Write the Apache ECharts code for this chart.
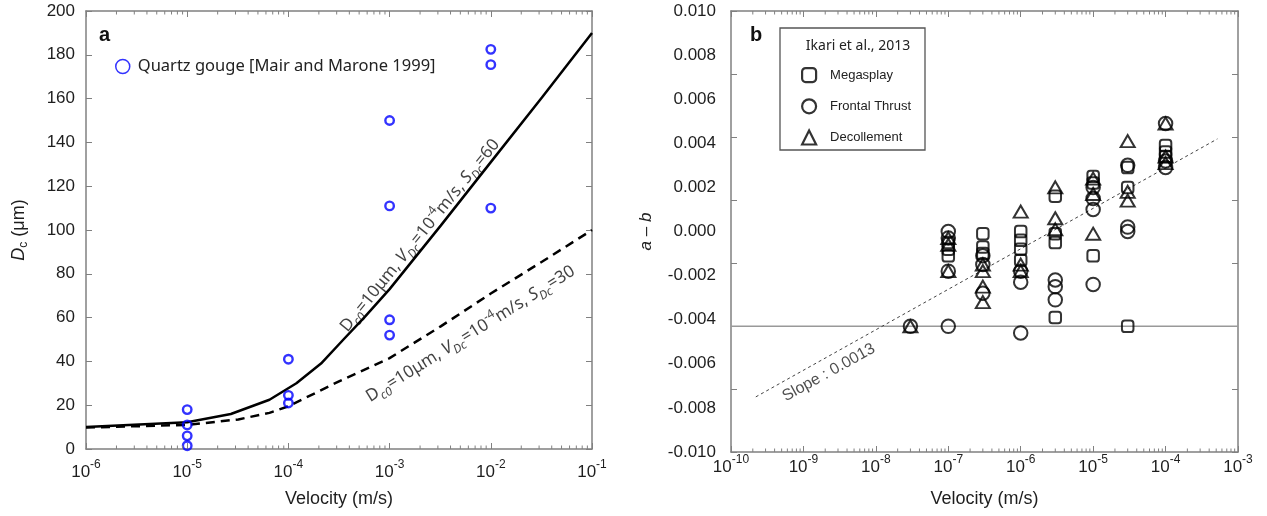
<!DOCTYPE html>
<html>
<head>
<meta charset="utf-8">
<script src="https://cdn.jsdelivr.net/npm/echarts@6/dist/echarts.min.js"></script>
<style>
  html, body { margin: 0; padding: 0; background: #fff; }
  #chart { width: 1267px; height: 516px; }
</style>
</head>
<body>
<div id="chart"></div>
<script>
// ---- panel a : Dc vs velocity ----
const quartzVel = [1e-5, 1e-5, 1e-5, 1e-5, 1e-4, 1e-4, 1e-4, 1e-3, 1e-3, 1e-3, 1e-3, 1e-2, 1e-2, 1e-2];
const quartzDc = [18, 11, 6, 1.5, 41, 24.5, 21, 150, 111, 59, 52, 182.5, 175.5, 110];

const s60Vel = [1e-6, 1e-5, 2.7e-5, 6.5e-5, 1.2e-4, 2.1e-4, 3.5e-4, 5.6e-4, 1e-3, 3.2e-3, 1e-2, 3.2e-2, 1e-1];
const s60Dc = [10, 12.2, 16, 22.5, 30, 39, 50, 60, 73, 102, 131, 160.5, 190];

const s30Vel = [1e-6, 1e-5, 3.2e-5, 6.5e-5, 1e-4, 3.2e-4, 1e-3, 3.2e-3, 1e-2, 3.2e-2, 1e-1];
const s30Dc = [9.8, 11, 13.5, 16.5, 19.5, 31, 41.5, 56, 71, 85.5, 100];

// ---- panel b : a-b vs velocity (Ikari et al., 2013) ----
const megaVel = [1e-7, 1e-7, 1e-7, 3e-7, 3e-7, 3e-7, 1e-6, 1e-6, 1e-6, 1e-6,
  3e-6, 3e-6, 3e-6, 3e-6, 1e-5, 1e-5, 1e-5, 3e-5, 3e-5, 3e-5, 1e-4, 1e-4, 1e-4];
const megaAB = [-0.0005, -0.0008, -0.0011, -0.0001, -0.0007, -0.0010, 0.0000, -0.0004, -0.0008, -0.0013,
  0.0016, -0.0001, -0.0005, -0.0039, 0.0025, 0.0022, -0.0011, 0.0029, 0.0020, -0.0043, 0.0039, 0.0036, 0.0034];

const frontVel = [3e-8, 1e-7, 1e-7, 1e-7, 1e-7, 3e-7, 3e-7, 3e-7, 1e-6, 1e-6, 1e-6,
  3e-6, 3e-6, 3e-6, 1e-5, 1e-5, 1e-5, 1e-5, 3e-5, 3e-5, 3e-5, 1e-4, 1e-4, 1e-4];
const frontAB = [-0.0043, 0.0000, -0.0003, -0.0018, -0.0043, -0.0011, -0.0015, -0.0028, -0.0018, -0.0023, -0.0046,
  -0.0022, -0.0025, -0.0031, 0.0020, 0.0015, 0.0010, -0.0024, 0.0030, 0.0002, 0.0000, 0.0049, 0.0032, 0.0029];

const decolVel = [3e-8, 1e-7, 1e-7, 1e-7, 3e-7, 3e-7, 3e-7, 3e-7, 1e-6, 1e-6, 1e-6,
  3e-6, 3e-6, 3e-6, 1e-5, 1e-5, 1e-5, 3e-5, 3e-5, 3e-5, 1e-4, 1e-4, 1e-4];
const decolAB = [-0.0043, -0.0003, -0.0006, -0.0018, -0.0015, -0.0018, -0.0025, -0.0032, 0.0009, -0.0015, -0.0018,
  0.0020, 0.0006, 0.0001, 0.0024, 0.0017, -0.0001, 0.0041, 0.0018, 0.0014, 0.0049, 0.0034, 0.0031];

const slopeVel = [2.2e-10, 5.2e-4];
const slopeAB = [-0.0075, 0.0042];
const refLineVel = [1e-10, 1e-3];
const refLineAB = [-0.0043, -0.0043];

// tick positions
const yTicksA = [0, 200, 20];
const yTicksB = [-0.01, 0.01, 0.002];
const decadesA = [-6, -1];
const decadesB = [-10, -3];

const gray = "#808080";
const ink = "#1e1e1e";
const pairs = (xs, ys) => xs.map((x, i) => [x, ys[i]]);
const minorTicks = (d) => {
  const out = [];
  for (let e = d[0]; e < d[1]; e++) for (let m = 2; m <= 9; m++) out.push(m * Math.pow(10, e));
  return out;
};

const powLabel = {
  formatter: (v) => "{b|10}{s|" + Math.round(Math.log10(v)) + "}",
  rich: {
    b: { fontSize: 17, fontFamily: "Liberation Sans", color: ink, lineHeight: 22, verticalAlign: "bottom" },
    s: { fontSize: 12, fontFamily: "Liberation Sans", color: ink, lineHeight: 12, verticalAlign: "top" },
  },
};

function logX(grid, decades, bottom, nameGap, margin) {
  return {
    type: "log", logBase: 10, gridIndex: grid,
    min: Math.pow(10, decades[0]), max: Math.pow(10, decades[1]),
    splitNumber: decades[1] - decades[0],
    position: bottom ? "bottom" : "top",
    axisLine: { onZero: false, lineStyle: { color: gray, width: 1.5 } },
    axisTick: { show: true, inside: true, length: 6, lineStyle: { color: gray } },
    axisLabel: bottom ? Object.assign({ show: true, margin: margin }, powLabel) : { show: false },
    splitLine: { show: false },
    name: bottom ? "Velocity (m/s)" : "",
    nameLocation: "middle", nameGap: nameGap,
    nameTextStyle: { fontSize: 18, fontFamily: "Liberation Sans", color: ink },
  };
}

// short inward ticks at 2..9 x 10^k on bottom and top edges
function minorSeries(xi, yi, decades, yExt) {
  return {
    type: "custom", xAxisIndex: xi, yAxisIndex: yi, silent: true, clip: false, z: 6,
    data: minorTicks(decades).map((v) => [v, yExt[0], yExt[1]]),
    renderItem: (params, api) => {
      const pb = api.coord([api.value(0), api.value(1)]);
      const pt = api.coord([api.value(0), api.value(2)]);
      const st = { stroke: gray, lineWidth: 1 };
      return {
        type: "group",
        children: [
          { type: "line", shape: { x1: pb[0], y1: pb[1], x2: pb[0], y2: pb[1] - 3.5 }, style: st },
          { type: "line", shape: { x1: pt[0], y1: pt[1], x2: pt[0], y2: pt[1] + 3.5 }, style: st },
        ],
      };
    },
  };
}

const annRich = {
  n: { fontSize: 17, fontFamily: "Noto Sans", color: "#111", lineHeight: 24, verticalAlign: "middle" },
  i: { fontSize: 17, fontFamily: "Noto Sans", fontStyle: "italic", color: "#111", lineHeight: 24, verticalAlign: "middle" },
  sub: { fontSize: 12, fontFamily: "Noto Sans", fontStyle: "italic", color: "#111", lineHeight: 12, verticalAlign: "bottom" },
  sup: { fontSize: 12, fontFamily: "Noto Sans", color: "#111", lineHeight: 12, verticalAlign: "top" },
};
const annText = (s) =>
  "{n|D}{sub|c0}{n|=10μm, }{i|V}{sub|Dc}{n|=10}{sup|-4}{n|m/s, }{i|S}{sub|Dc}{n|=" + s + "}";

const hollow = (c, w) => ({ color: "rgba(0,0,0,0)", borderColor: c, borderWidth: w });

const chart = echarts.init(document.getElementById("chart"));
chart.setOption({
  animation: false,
  backgroundColor: "#fff",
  title: [
    { text: "a", left: 94, top: 20, textStyle: { fontSize: 20, fontWeight: "bold", fontFamily: "Liberation Sans", color: "#111" } },
    { text: "b", left: 745, top: 20, textStyle: { fontSize: 20, fontWeight: "bold", fontFamily: "Liberation Sans", color: "#111" } },
    { text: "Ikari et al., 2013", left: 853, top: 34, textAlign: "center",
      textStyle: { fontSize: 14, fontWeight: "normal", fontFamily: "Noto Sans", color: "#222" } },
  ],
  graphic: [
    { type: "rect", shape: { x: 780, y: 28, width: 145, height: 122 }, style: { fill: "none", stroke: "#555", lineWidth: 1.3 }, z: 5 },
  ],
  legend: [
    {
      data: ["Quartz gouge [Mair and Marone 1999]"], left: 110, top: 53,
      itemWidth: 14, itemHeight: 14, itemStyle: { borderWidth: 1.5 },
      textStyle: { fontSize: 16.5, fontFamily: "Noto Sans", color: "#222", padding: [0, 0, 0, 3] },
    },
    {
      data: ["Megasplay", "Frontal Thrust", "Decollement"], orient: "vertical", left: 796, top: 62,
      itemGap: 15, itemWidth: 14, itemHeight: 14, itemStyle: { borderWidth: 2.2 },
      textStyle: { fontSize: 13, fontFamily: "Liberation Sans", color: "#222", padding: [0, 0, 0, 9] },
    },
  ],
  grid: [
    { left: 86, top: 11, width: 506, height: 438 },
    { left: 731, top: 11, width: 507, height: 441 },
  ],
  xAxis: [
    logX(0, decadesA, true, 41, 10),
    logX(0, decadesA, false, 0, 0),
    logX(1, decadesB, true, 38, 2),
    logX(1, decadesB, false, 0, 0),
  ],
  yAxis: [
    {
      type: "value", gridIndex: 0, position: "left",
      min: yTicksA[0], max: yTicksA[1], interval: yTicksA[2],
      axisLine: { show: true, onZero: false, lineStyle: { color: gray, width: 1.5 } },
      axisTick: { show: true, inside: true, length: 6, lineStyle: { color: gray } },
      axisLabel: { fontSize: 17, fontFamily: "Liberation Sans", color: ink, margin: 11 },
      splitLine: { show: false },
      name: "{i|D}{sub|c}{n| (μm)}", nameLocation: "middle", nameGap: 56, nameRotate: 90,
      nameTextStyle: {
        rich: {
          i: { fontSize: 18, fontFamily: "Liberation Sans", fontStyle: "italic", color: ink, lineHeight: 22, verticalAlign: "middle" },
          n: { fontSize: 18, fontFamily: "Liberation Sans", color: ink, lineHeight: 22, verticalAlign: "middle" },
          sub: { fontSize: 12, fontFamily: "Liberation Sans", color: ink, lineHeight: 12, verticalAlign: "bottom" },
        },
      },
    },
    {
      type: "value", gridIndex: 0, position: "right",
      min: yTicksA[0], max: yTicksA[1], interval: yTicksA[2],
      axisLine: { show: true, onZero: false, lineStyle: { color: gray, width: 1.5 } },
      axisTick: { show: true, inside: true, length: 6, lineStyle: { color: gray } },
      axisLabel: { show: false }, splitLine: { show: false },
    },
    {
      type: "value", gridIndex: 1, position: "left",
      min: yTicksB[0], max: yTicksB[1], interval: yTicksB[2],
      axisLine: { show: true, onZero: false, lineStyle: { color: gray, width: 1.5 } },
      axisTick: { show: false },
      axisLabel: {
        fontSize: 17, fontFamily: "Liberation Sans", color: ink, margin: 15,
        formatter: (v) => (Math.abs(v) < 1e-9 ? "0.000" : v.toFixed(3)),
      },
      splitLine: { show: false },
      name: "a – b", nameLocation: "middle", nameGap: 76, nameRotate: 90,
      nameTextStyle: { fontSize: 17, fontFamily: "Liberation Sans", fontStyle: "italic", color: ink },
    },
    {
      type: "value", gridIndex: 1, position: "right", min: 0, max: 7, interval: 1,
      axisLine: { show: true, onZero: false, lineStyle: { color: gray, width: 1.5 } },
      axisTick: { show: true, inside: true, length: 6, lineStyle: { color: gray } },
      axisLabel: { show: false }, splitLine: { show: false },
    },
    {
      type: "value", gridIndex: 1, position: "left", min: 0, max: 7, interval: 1,
      axisLine: { show: false, onZero: false },
      axisTick: { show: true, inside: true, length: 6, lineStyle: { color: gray } },
      axisLabel: { show: false }, splitLine: { show: false },
    },
  ],
  series: [
    minorSeries(0, 0, decadesA, [yTicksA[0], yTicksA[1]]),
    minorSeries(2, 2, decadesB, [yTicksB[0], yTicksB[1]]),
    {
      type: "line", xAxisIndex: 0, yAxisIndex: 0, data: pairs(s60Vel, s60Dc),
      showSymbol: false, silent: true, lineStyle: { color: "#000", width: 2.5 },
    },
    {
      type: "line", xAxisIndex: 0, yAxisIndex: 0, data: pairs(s30Vel, s30Dc),
      showSymbol: false, silent: true, lineStyle: { color: "#000", width: 2.5, type: [9, 6] },
    },
    {
      name: "Quartz gouge [Mair and Marone 1999]",
      type: "scatter", xAxisIndex: 0, yAxisIndex: 0, data: pairs(quartzVel, quartzDc),
      symbol: "circle", symbolSize: 8.5, itemStyle: hollow("#0000ff", 2.4), z: 4,
    },
    {
      type: "scatter", xAxisIndex: 0, yAxisIndex: 0, silent: true,
      data: [[Math.pow(10, -2.70), 97.5]], symbolSize: 0,
      label: { show: true, position: "inside", rotate: 51, formatter: annText("60"), rich: annRich },
    },
    {
      type: "scatter", xAxisIndex: 0, yAxisIndex: 0, silent: true,
      data: [[Math.pow(10, -2.20), 52.5]], symbolSize: 0,
      label: { show: true, position: "inside", rotate: 32, formatter: annText("30"), rich: annRich },
    },
    {
      type: "line", xAxisIndex: 2, yAxisIndex: 2, data: pairs(refLineVel, refLineAB),
      showSymbol: false, silent: true, lineStyle: { color: "#999", width: 1.5 },
    },
    {
      type: "line", xAxisIndex: 2, yAxisIndex: 2, data: pairs(slopeVel, slopeAB),
      showSymbol: false, silent: true, lineStyle: { color: "#444", width: 1, type: [3, 3] },
    },
    {
      type: "scatter", xAxisIndex: 2, yAxisIndex: 2, silent: true,
      data: [[Math.pow(10, -8.65), -0.0064]], symbolSize: 0,
      label: { show: true, position: "inside", rotate: 29, formatter: "Slope : 0.0013",
        fontSize: 16, fontFamily: "Liberation Sans", color: "#222" },
    },
    {
      name: "Megasplay", type: "scatter", xAxisIndex: 2, yAxisIndex: 2, data: pairs(megaVel, megaAB),
      symbol: "roundRect", symbolSize: 11.5, itemStyle: hollow("#000", 2), z: 4,
    },
    {
      name: "Frontal Thrust", type: "scatter", xAxisIndex: 2, yAxisIndex: 2, data: pairs(frontVel, frontAB),
      symbol: "circle", symbolSize: 13.5, itemStyle: hollow("#000", 2), z: 4,
    },
    {
      name: "Decollement", type: "scatter", xAxisIndex: 2, yAxisIndex: 2, data: pairs(decolVel, decolAB),
      symbol: "triangle", symbolSize: [14, 12], itemStyle: hollow("#000", 2), z: 4,
    },
  ],
});
</script>
</body>
</html>
